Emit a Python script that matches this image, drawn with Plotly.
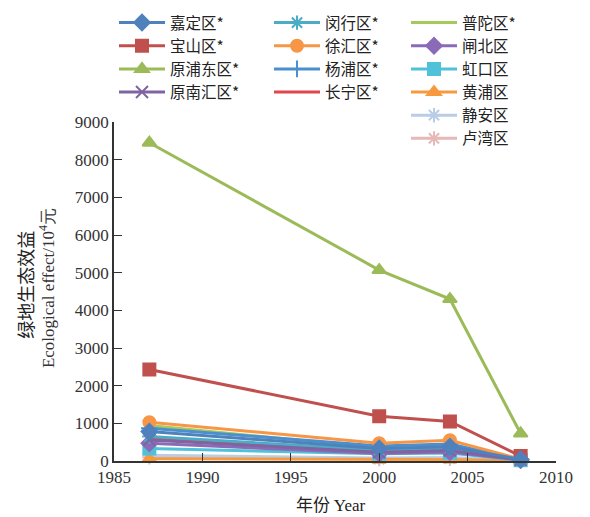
import plotly.graph_objects as go

# Survey years
years = [1987, 2000, 2004, 2008]

# Ecological effect of green space by district (10^4 yuan)
jiading = [780, 330, 380, 40]
baoshan = [2430, 1190, 1050, 130]
pudong = [8450, 5070, 4300, 730]
nanhui = [560, 230, 280, 30]
minhang = [650, 290, 340, 40]
xuhui = [1030, 470, 550, 50]
yangpu = [870, 400, 450, 40]
changning = [620, 250, 320, 30]
putuo = [940, 340, 410, 30]
zhabei = [470, 200, 240, 25]
hongkou = [330, 190, 210, 20]
huangpu = [60, 30, 40, 5]
jingan = [150, 80, 90, 10]
luwan = [100, 50, 60, 8]

x_ticks = [1985, 1990, 1995, 2000, 2005, 2010]
y_ticks = [0, 1000, 2000, 3000, 4000, 5000, 6000, 7000, 8000, 9000]

# name, values, color, marker symbol, legend box
series = [
    ("嘉定区*", jiading, "#4F81BD", "diamond", "legend"),
    ("宝山区*", baoshan, "#C0504D", "square", "legend"),
    ("原浦东区*", pudong, "#9BBB59", "triangle-up", "legend"),
    ("原南汇区*", nanhui, "#8064A2", "x-thin-open", "legend"),
    ("闵行区*", minhang, "#4BACC6", "asterisk-open", "legend2"),
    ("徐汇区*", xuhui, "#F79646", "circle", "legend2"),
    ("杨浦区*", yangpu, "#4A8FD0", "cross-thin-open", "legend2"),
    ("长宁区*", changning, "#E0474C", None, "legend2"),
    ("普陀区*", putuo, "#A5C95A", None, "legend3"),
    ("闸北区", zhabei, "#8A6BB8", "diamond", "legend3"),
    ("虹口区", hongkou, "#4FC1D9", "square", "legend3"),
    ("黄浦区", huangpu, "#F7993E", "triangle-up", "legend3"),
    ("静安区", jingan, "#B9CDE5", "asterisk-open", "legend3"),
    ("卢湾区", luwan, "#E6B9B8", "asterisk-open", "legend3"),
]

# Small districts are drawn first so the large ones sit on top
draw_order = list(range(len(series)))[::-1]

fig = go.Figure()
for i in draw_order:
    name, vals, color, sym, lg = series[i]
    mode = "lines+markers" if sym else "lines"
    marker = dict(symbol=sym or "circle", size=12, color=color,
                  line=dict(color=color, width=2))
    fig.add_trace(go.Scatter(
        x=years, y=vals, name=name, mode=mode, legend=lg, legendrank=i + 1,
        line=dict(color=color, width=3), marker=marker,
        cliponaxis=False,
    ))

W, H = 590, 517
cjk = "Noto Sans CJK SC"
serif = "Liberation Serif, Times New Roman, serif"
legend_font = dict(family=cjk, size=15.5, color="#222")


def legend_box(x_px, y_px):
    return dict(
        xref="container", yref="container",
        x=x_px / W, y=1 - y_px / H, xanchor="left", yanchor="top",
        font=legend_font, itemwidth=46, tracegroupgap=0,
        bgcolor="rgba(0,0,0,0)", traceorder="normal",
    )


fig.update_layout(
    width=W, height=H,
    margin=dict(l=114, r=34, t=122, b=56, autoexpand=False),
    paper_bgcolor="white", plot_bgcolor="white",
    showlegend=True,
    legend=legend_box(114, 6),
    legend2=legend_box(269, 6),
    legend3=legend_box(406, 6),
    font=dict(family=serif, size=17, color="#333"),
    xaxis=dict(
        range=[1985, 2010], tickvals=x_ticks, ticks="inside", ticklen=8,
        tickcolor="#333", showline=True, linecolor="#333", linewidth=1.5,
        showgrid=False, zeroline=False, tickfont=dict(family=serif, size=17),
    ),
    yaxis=dict(
        range=[0, 9000], tickvals=y_ticks, ticks="inside", ticklen=8,
        tickcolor="#333", showline=True, linecolor="#333", linewidth=1.5,
        showgrid=False, zeroline=False, tickfont=dict(family=serif, size=17),
    ),
    annotations=[
        dict(text="绿地生态效益", xref="paper", yref="paper",
             x=-89 / 442, y=0.52, xanchor="center", yanchor="middle",
             textangle=-90, showarrow=False,
             font=dict(family=cjk, size=18, color="#222")),
        dict(text="Ecological effect/10<sup>4</sup>元", xref="paper", yref="paper",
             x=-67 / 442, y=0.51, xanchor="center", yanchor="middle",
             textangle=-90, showarrow=False,
             font=dict(family=serif, size=17, color="#333")),
        dict(text="年份 <span style='font-family:Liberation Serif'>Year</span>",
             xref="paper", yref="paper",
             x=0.49, y=-42 / 339, xanchor="center", yanchor="middle",
             showarrow=False, font=dict(family=cjk, size=17, color="#222")),
    ],
)

fig.write_html("out.html")
